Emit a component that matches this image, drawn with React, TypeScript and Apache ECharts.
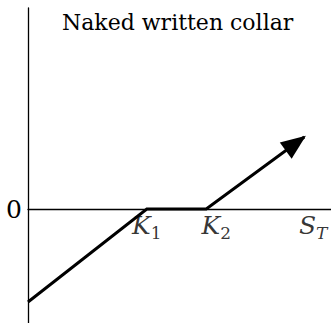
import React, { useEffect, useRef } from "react";
import * as echarts from "echarts";

// Payoff of a naked written collar (x = S_T, y = payoff)
const payoffX = [0, 40, 60, 93];
const payoffY = [-31, 0, 0, 24];
const K1 = 40;
const K2 = 60;
const xLabelValues = [K1, K2, 96];
const xLabelNames = ["K1", "K2", "ST"];
const yLabelValues = [0];
const titleText = "Naked written collar";

const FONT = "DejaVu Serif";

export default function App() {
  const ref = useRef<HTMLDivElement>(null);
  useEffect(() => {
    if (!ref.current) return;
    const chart = echarts.init(ref.current, null, { renderer: "svg" });
    const linePts = payoffX.map((x, i) => [x, payoffY[i]]);
    const n = payoffX.length;
    const richStyles = {
      k: { fontFamily: FONT, fontStyle: "italic", fontSize: 25, color: "#000", lineHeight: 28 },
      k2: { fontFamily: FONT, fontStyle: "italic", fontSize: 25, color: "#000", lineHeight: 28, padding: [0, 0, 0, 20] },
      s: { fontFamily: FONT, fontSize: 17, color: "#000", lineHeight: 17, padding: [15, 0, 0, 0] },
      t: { fontFamily: FONT, fontStyle: "italic", fontSize: 17, color: "#000", lineHeight: 17, padding: [15, 0, 0, 0] },
    };
    chart.setOption({
      animation: false,
      backgroundColor: "#fff",
      title: {
        text: titleText,
        left: 57,
        top: 6,
        textStyle: { fontFamily: FONT, fontSize: 22, fontWeight: "normal", color: "#000" },
      },
      grid: { left: 28, right: 0, top: 8, bottom: 0, containLabel: false, outerBoundsMode: "none" },
      xAxis: {
        type: "value",
        min: 0,
        max: 102,
        axisLine: { show: true, onZero: true, lineStyle: { color: "#000", width: 1.3 } },
        axisTick: { show: false },
        splitLine: { show: false },
        axisLabel: { show: false },
      },
      yAxis: {
        type: "value",
        min: -38,
        max: 67,
        axisLine: { show: true, onZero: false, lineStyle: { color: "#000", width: 1.3 } },
        axisTick: { show: false },
        splitLine: { show: false },
        axisLabel: {
          customValues: yLabelValues,
          margin: 6,
          fontFamily: FONT,
          fontSize: 25,
          color: "#000",
          formatter: (v: number) => String(v),
        },
      },
      series: [
        {
          type: "line",
          data: linePts,
          symbol: "none",
          lineStyle: { color: "#000", width: 3, join: "miter", cap: "butt" },
          z: 5,
        },
        {
          type: "custom",
          z: 6,
          data: [[payoffX[n - 1], payoffY[n - 1], payoffX[n - 2], payoffY[n - 2]]],
          renderItem: (params: any, api: any) => {
            const tip = api.coord([api.value(0), api.value(1)]);
            const from = api.coord([api.value(2), api.value(3)]);
            const dx = tip[0] - from[0];
            const dy = tip[1] - from[1];
            const len = Math.hypot(dx, dy);
            const ux = dx / len;
            const uy = dy / len;
            const L = 25;
            const W = 20;
            const t = [tip[0] + ux * 2, tip[1] + uy * 2];
            const b = [t[0] - ux * L, t[1] - uy * L];
            const px = -uy;
            const py = ux;
            return {
              type: "polygon",
              shape: {
                points: [t, [b[0] + (px * W) / 2, b[1] + (py * W) / 2], [b[0] - (px * W) / 2, b[1] - (py * W) / 2]],
              },
              style: { fill: "#000" },
            };
          },
        },
        {
          type: "scatter",
          z: 7,
          symbolSize: 0,
          silent: true,
          data: xLabelValues.map((v, i) => ({ value: [v, 0], name: xLabelNames[i] })),
          label: {
            show: true,
            position: "bottom",
            distance: 2,
            formatter: (p: any) => {
              if (p.name === "K1") return "{k|K}{s|1}";
              if (p.name === "K2") return "{k2|K}{s|2}";
              return "{k|S}{t|T}";
            },
            rich: richStyles,
          },
        },
      ],
    });
    return () => chart.dispose();
  }, []);
  return (
    <div
      ref={ref}
      style={{ position: "fixed", left: 0, top: 0, width: 331, height: 323, background: "#fff" }}
    />
  );
}
